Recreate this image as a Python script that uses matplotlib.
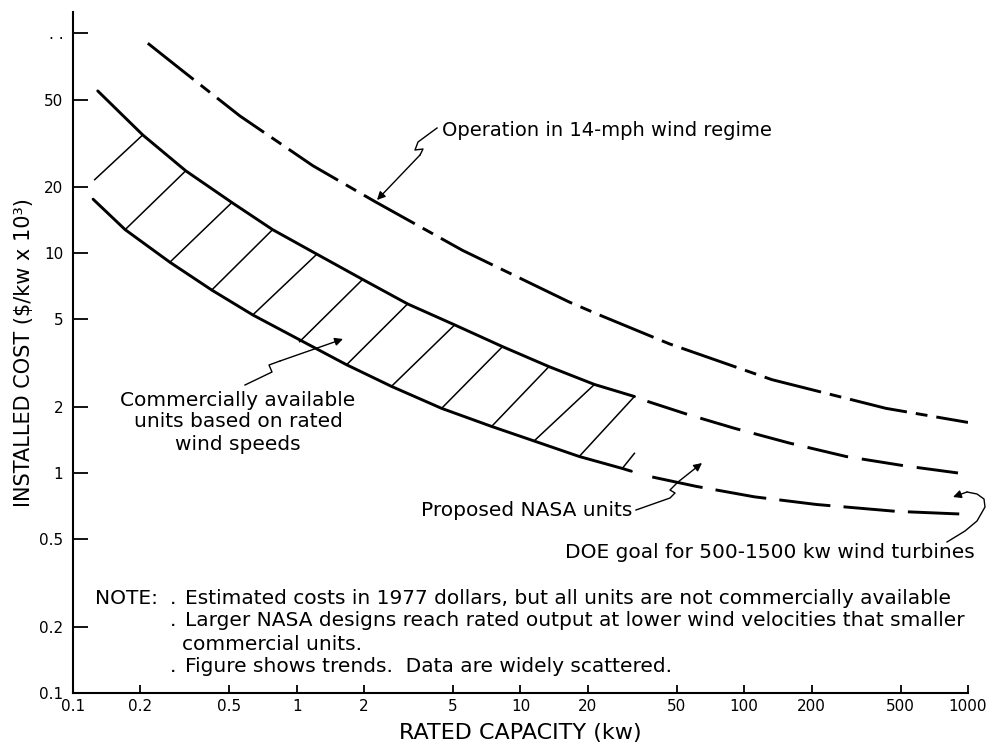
import matplotlib
matplotlib.use("Agg")
import matplotlib.pyplot as plt
from matplotlib.lines import Line2D
from matplotlib.ticker import FixedLocator, FixedFormatter, NullLocator

# ---------------- data ----------------
band_upper_kw = [0.129, 0.205, 0.319, 0.513, 0.78, 1.23, 1.97, 3.13, 5.08, 8.31, 13.4, 21.4, 32.3]
band_upper_cost = [54.7, 34.5, 23.7, 17.0, 12.8, 9.9, 7.6, 5.88, 4.72, 3.76, 3.05, 2.53, 2.23]

band_lower_kw = [0.123, 0.171, 0.271, 0.417, 0.636, 1.67, 2.65, 4.44, 7.43, 11.5, 18.3, 28.5, 31.3]
band_lower_cost = [17.6, 12.8, 9.1, 6.8, 5.24, 3.11, 2.48, 1.97, 1.63, 1.40, 1.19, 1.05, 1.02]

hatch_low_kw = [0.125, 0.171, 0.271, 0.417, 0.636, 1.03, 1.67, 2.65, 4.44, 7.43, 11.5, 18.3, 28.5]
hatch_low_cost = [21.6, 12.8, 9.1, 6.8, 5.24, 3.96, 3.11, 2.48, 1.97, 1.63, 1.40, 1.19, 1.05]
hatch_high_kw = [0.205, 0.319, 0.513, 0.78, 1.23, 1.97, 3.13, 5.08, 8.31, 13.4, 21.4, 32.3, 32.3]
hatch_high_cost = [34.5, 23.7, 17.0, 12.8, 9.9, 7.6, 5.88, 4.72, 3.76, 3.05, 2.53, 2.23, 1.23]

wind14_kw = [0.216, 0.310, 0.557, 1.18, 2.23, 5.51, 16.5, 22.5, 46.3, 133, 430, 1000]
wind14_cost = [90.1, 67.3, 42.1, 25.0, 17.2, 10.3, 6.0, 5.24, 3.87, 2.66, 1.97, 1.70]

nasa_high_kw = [36.9, 55.7, 90.2, 159, 285, 518, 980]
nasa_high_cost = [2.12, 1.85, 1.60, 1.37, 1.19, 1.08, 0.99]

nasa_low_kw = [38.8, 61.1, 111, 210, 477, 980]
nasa_low_cost = [0.96, 0.87, 0.78, 0.72, 0.67, 0.65]

x_ticks = [0.1, 0.2, 0.5, 1, 2, 5, 10, 20, 50, 100, 200, 500, 1000]
x_tick_labels = ["0.1", "0.2", "0.5", "1", "2", "5", "10", "20", "50", "100", "200", "500", "1000"]
y_ticks = [0.1, 0.2, 0.5, 1, 2, 5, 10, 20, 50, 100]
y_tick_labels = ["0.1", "0.2", "0.5", "1", "2", "5", "10", "20", "50", ". ."]

# ---------------- figure ----------------
plt.rcParams['font.family'] = ['DejaVu Sans']
plt.rcParams['lines.scale_dashes'] = False

W, H = 995, 751
fig = plt.figure(figsize=(W / 100, H / 100), dpi=100)
ax = fig.add_axes([73 / W, 1 - 693 / H, (968 - 73) / W, (693 - 12) / H])
ax.set_xscale('log')
ax.set_yscale('log')
ax.set_xlim(0.1, 1000)
ax.set_ylim(0.1, 125)

for s in ('top', 'right'):
    ax.spines[s].set_visible(False)
for s in ('left', 'bottom'):
    ax.spines[s].set_linewidth(1.5)

ax.xaxis.set_major_locator(FixedLocator(x_ticks))
ax.xaxis.set_major_formatter(FixedFormatter(x_tick_labels))
ax.yaxis.set_major_locator(FixedLocator(y_ticks))
ax.yaxis.set_major_formatter(FixedFormatter(y_tick_labels))
ax.xaxis.set_minor_locator(NullLocator())
ax.yaxis.set_minor_locator(NullLocator())
ax.tick_params(axis='y', direction='in', length=11, width=1.3, pad=7, labelsize=11)
ax.tick_params(axis='x', direction='in', length=6, width=1.3, pad=4, labelsize=11)

ax.set_xlabel("RATED CAPACITY (kw)", fontsize=16, labelpad=7)
ax.set_ylabel("INSTALLED COST ($/kw x 10³)", fontsize=15, labelpad=4)

# band of commercially available units
ax.plot(band_upper_kw, band_upper_cost, color='black', lw=2.1, solid_capstyle='round')
ax.plot(band_lower_kw, band_lower_cost, color='black', lw=2.1, solid_capstyle='round')
for xl, yl, xh, yh in zip(hatch_low_kw, hatch_low_cost, hatch_high_kw, hatch_high_cost):
    ax.plot([xl, xh], [yl, yh], color='black', lw=1.1)

# dashed trend lines
ax.plot(wind14_kw, wind14_cost, color='black', lw=2.1, dashes=[42, 6.5, 8.5, 6.5])
ax.plot(nasa_high_kw, nasa_high_cost, color='black', lw=2.1, dashes=[30, 10])
ax.plot(nasa_low_kw, nasa_low_cost, color='black', lw=2.1, dashes=[37, 9.5])


# ---------------- annotations (positions in reference pixels) ----------------
def P(x, y):
    return (x / W, 1 - y / H)


def leader(pts):
    xs = [p[0] / W for p in pts[:-1]]
    ys = [1 - p[1] / H for p in pts[:-1]]
    fig.add_artist(Line2D(xs, ys, color='black', lw=1.0))
    ax.annotate("", xy=P(*pts[-1]), xycoords='figure fraction',
                xytext=P(*pts[-2]), textcoords='figure fraction',
                arrowprops=dict(arrowstyle='-|>', color='black', lw=1.0,
                                mutation_scale=12, shrinkA=0, shrinkB=0))


def label(x, y, s, ha='left', size=14.5):
    fig.text(x / W, 1 - y / H, s, ha=ha, va='center', fontsize=size)


label(442, 130, "Operation in 14-mph wind regime", size=14)
leader([(437, 128), (418, 142), (415, 150), (423, 149), (420, 155), (377, 200)])

label(238, 400, "Commercially available", ha='center')
label(238, 422, "units based on rated", ha='center')
label(238, 444, "wind speeds", ha='center')
leader([(245, 385), (272, 372), (269, 365), (280, 361), (343, 339)])

label(632, 510, "Proposed NASA units", ha='right')
leader([(636, 510), (670, 498), (675, 493), (670, 490), (678, 482), (702, 463)])

label(975, 553, "DOE goal for 500-1500 kw wind turbines", ha='right')
leader([(947, 542), (965, 531), (977, 521), (985, 507), (984, 499), (977, 494), (967, 492), (953, 497)])

label(95, 598, "NOTE:")
label(170, 598, ".")
label(185, 598, "Estimated costs in 1977 dollars, but all units are not commercially available")
label(170, 621, ".")
label(185, 621, "Larger NASA designs reach rated output at lower wind velocities that smaller")
label(182, 644, "commercial units.")
label(170, 667, ".")
label(185, 667, "Figure shows trends.  Data are widely scattered.")

fig.savefig("out.png", dpi=100)
